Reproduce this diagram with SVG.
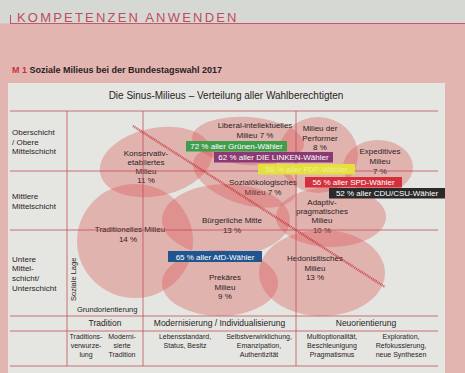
<svg xmlns="http://www.w3.org/2000/svg" width="465" height="373" viewBox="0 0 465 373">
<defs>
<style>
text{font-family:"Liberation Sans",Arial,sans-serif;fill:#2a2224}
.lbl{font-size:8px;text-anchor:middle}
.side{font-size:8px}
.hd{font-size:8.5px;text-anchor:middle}
.sm{font-size:7px;text-anchor:middle}
.blob{fill:#d9534f;fill-opacity:0.35}
.grid{stroke:#c24e5a;stroke-width:0.8;fill:none}
.tag{font-size:8px;text-anchor:middle;fill:#fff}
</style>
</defs>
<!-- page background -->
<rect x="0" y="0" width="465" height="373" fill="#e2b5b0"/>
<rect x="0" y="0" width="465" height="23.5" fill="#d6d8d4"/>
<line x1="10" y1="23.5" x2="465" y2="23.5" stroke="#c44a5c" stroke-width="0.9"/>
<line x1="10.5" y1="15" x2="10.5" y2="24" stroke="#c44a5c" stroke-width="1"/>
<text x="17" y="22" font-size="13" letter-spacing="2.2" style="fill:#c24a5e">KOMPETENZEN ANWENDEN</text>
<text x="12" y="73" font-size="9" font-weight="bold"><tspan style="fill:#c8323c">M 1</tspan> Soziale Milieus bei der Bundestagswahl 2017</text>
<!-- diagram box -->
<rect x="8" y="83" width="437" height="290" fill="#e5e6e2"/>
<text x="226" y="99" font-size="10" text-anchor="middle">Die Sinus-Milieus – Verteilung aller Wahlberechtigten</text>

<!-- milieus -->
<g id="konservativ"><ellipse class="blob" cx="156" cy="162" rx="57" ry="34" transform="rotate(-12 156 162)"/>
<text class="lbl" x="146" y="156">Konservativ-</text><text class="lbl" x="146" y="165">etabliertes</text><text class="lbl" x="146" y="174">Milieu</text><text class="lbl" x="146" y="183">11 %</text></g>
<g id="traditionell"><ellipse class="blob" cx="135" cy="241" rx="58" ry="57"/>
<text class="lbl" x="130" y="232">Traditionelles Milieu</text><text class="lbl" x="128" y="242">14 %</text></g>
<g id="liberal"><ellipse class="blob" cx="248" cy="141" rx="56" ry="24" transform="rotate(4 248 141)"/>
<text class="lbl" x="255" y="128">Liberal-intellektuelles</text><text class="lbl" x="255" y="138">Milieu 7 %</text></g>
<g id="performer"><ellipse class="blob" cx="318" cy="155" rx="40" ry="38"/>
<text class="lbl" x="320" y="131">Milieu der</text><text class="lbl" x="320" y="141">Performer</text><text class="lbl" x="320" y="150">8 %</text></g>
<g id="expeditiv"><ellipse class="blob" cx="378" cy="167" rx="35" ry="27"/>
<text class="lbl" x="380" y="154">Expeditives</text><text class="lbl" x="380" y="164">Milieu</text><text class="lbl" x="380" y="174">7 %</text></g>
<g id="sozialoeko"><ellipse class="blob" cx="245" cy="177" rx="54" ry="27" transform="rotate(18 245 177)"/>
<text class="lbl" x="263" y="185">Sozialökologisches</text><text class="lbl" x="263" y="195">Milieu 7 %</text></g>
<g id="buergerlich"><ellipse class="blob" cx="226" cy="220" rx="64" ry="36"/>
<text class="lbl" x="232" y="223">Bürgerliche Mitte</text><text class="lbl" x="232" y="233">13 %</text></g>
<g id="adaptiv"><ellipse class="blob" cx="331" cy="217" rx="55" ry="30"/>
<text class="lbl" x="322" y="205">Adaptiv-</text><text class="lbl" x="322" y="214">pragmatisches</text><text class="lbl" x="322" y="223">Milieu</text><text class="lbl" x="322" y="233">10 %</text></g>
<g id="prekaer"><ellipse class="blob" cx="220" cy="283" rx="58" ry="33"/>
<text class="lbl" x="225" y="280">Prekäres</text><text class="lbl" x="225" y="290">Milieu</text><text class="lbl" x="225" y="299">9 %</text></g>
<g id="hedonist"><ellipse class="blob" cx="322" cy="273" rx="63" ry="43"/>
<text class="lbl" x="315" y="261">Hedonisitisches</text><text class="lbl" x="315" y="271">Milieu</text><text class="lbl" x="315" y="280">13 %</text></g>

<!-- grid / connectors -->
<g id="connectors">
<path class="grid" d="M10 111H438M10 171H438M10 230H438M10 316H438M10 331H438M10 366H438M67 111V366M143 111V366M296 111V366"/>
<line x1="133" y1="126" x2="385" y2="287" stroke="#c8323c" stroke-width="2.4" stroke-dasharray="1 0.8" opacity="0.8"/>
</g>

<!-- voter tags -->
<g id="gruene"><rect x="186" y="141" width="101" height="10.5" fill="#3f9e4c"/><text class="tag" x="236.5" y="149.3">72 % aller Grünen-Wähler</text></g>
<g id="linke"><rect x="214" y="152" width="119" height="10.5" fill="#8a3a72"/><text class="tag" x="273.5" y="160.3">62 % aller DIE LINKEN-Wähler</text></g>
<g id="fdp"><rect x="258" y="164" width="97" height="10.5" fill="#e3e040"/><text class="tag" x="306.5" y="172.3" style="fill:#f3ee9a">58 % aller FDP-Wähler</text></g>
<g id="spd"><rect x="305" y="177" width="97" height="10.5" fill="#d3303c"/><text class="tag" x="353.5" y="185.3">56 % aller SPD-Wähler</text></g>
<g id="cdu"><rect x="329" y="188" width="116" height="10.5" fill="#2a2a2a"/><text class="tag" x="387" y="196.3">52 % aller CDU/CSU-Wähler</text></g>
<g id="afd"><rect x="168" y="251" width="94" height="11" fill="#1f5690"/><text class="tag" x="215" y="259.5">65 % aller AfD-Wähler</text></g>

<!-- side labels -->
<g id="schichten">
<text class="side" x="12" y="135">Oberschicht</text><text class="side" x="12" y="145">/ Obere</text><text class="side" x="12" y="154">Mittelschicht</text>
<text class="side" x="12" y="199">Mittlere</text><text class="side" x="12" y="209">Mittelschicht</text>
<text class="side" x="12" y="262">Untere</text><text class="side" x="12" y="271">Mittel-</text><text class="side" x="12" y="281">schicht/</text><text class="side" x="12" y="291">Unterschicht</text>
<text font-size="7.5" x="0" y="0" transform="translate(75.5 301) rotate(-90)">Soziale Lage</text>
<text font-size="7.5" x="77" y="312">Grundorientierung</text>
</g>

<!-- table -->
<g id="tabelle">
<text class="hd" x="105" y="326">Tradition</text>
<text class="hd" x="219.5" y="326">Modernisierung / Individualisierung</text>
<text class="hd" x="366" y="326">Neuorientierung</text>
<text class="sm" x="86" y="339">Traditions-</text><text class="sm" x="86" y="348">verwurze-</text><text class="sm" x="86" y="357">lung</text>
<text class="sm" x="122" y="339">Moderni-</text><text class="sm" x="122" y="348">sierte</text><text class="sm" x="122" y="357">Tradition</text>
<text class="sm" x="185" y="339">Lebensstandard,</text><text class="sm" x="185" y="348">Status, Besitz</text>
<text class="sm" x="259" y="339">Selbstverwirklichung,</text><text class="sm" x="259" y="348">Emanzipation,</text><text class="sm" x="259" y="357">Authentizität</text>
<text class="sm" x="332" y="339">Multioptionalität,</text><text class="sm" x="332" y="348">Beschleunigung</text><text class="sm" x="332" y="357">Pragmatismus</text>
<text class="sm" x="401" y="339">Exploration,</text><text class="sm" x="401" y="348">Refokussierung,</text><text class="sm" x="401" y="357">neue Synthesen</text>
</g>
</svg>
